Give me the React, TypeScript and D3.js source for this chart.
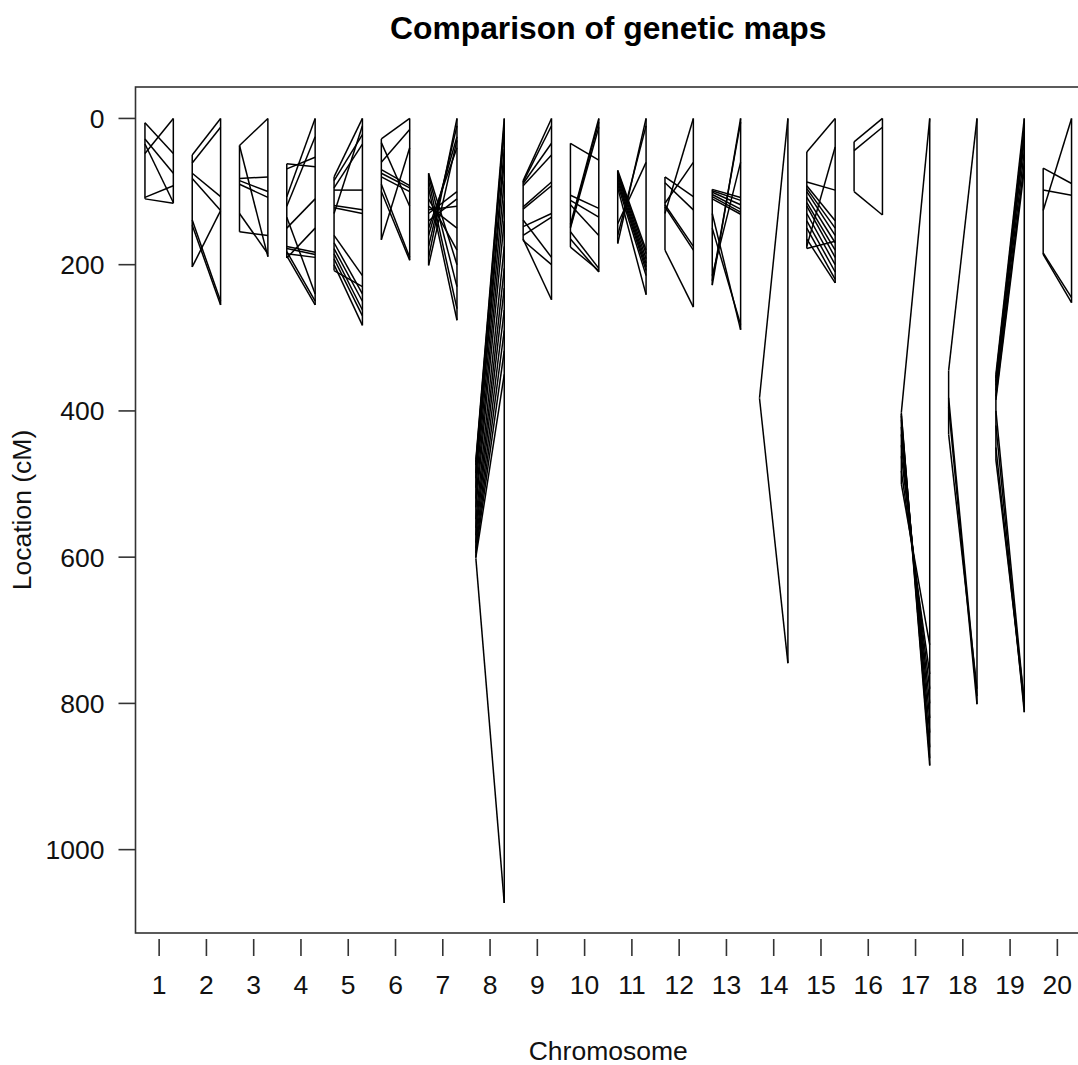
import React from 'react';
import * as d3 from 'd3';

const chromosomes = ['1','2','3','4','5','6','7','8','9','10','11','12','13','14','15','16','17','18','19','20'];

// Marker positions (cM) in map 1 (left) and map 2 (right), per chromosome
const map1Positions: number[][] = [
  [6, 28, 35, 48, 108, 110],
  [50, 61, 75, 82, 139, 146, 203],
  [37, 37, 82, 85, 90, 130, 155],
  [62, 69, 107, 120, 135, 150, 175, 178, 182, 185, 188, 191],
  [80, 85, 95, 98, 119, 122, 130, 160, 170, 178, 185, 192, 200, 208],
  [28, 33, 60, 70, 75, 80, 90, 100, 166],
  [75, 78, 85, 95, 110, 120, 125, 130, 140, 150, 160, 175, 190, 201],
  [467, 470, 474, 485, 492, 505, 520, 532, 548, 560, 570, 580, 588, 594, 600, 602],
  [85, 87, 89, 92, 121, 124, 139, 148, 160, 165, 167],
  [34, 105, 112, 118, 145, 148, 150, 155, 165, 176],
  [71, 73, 75, 78, 82, 86, 90, 95, 144, 160, 171],
  [80, 88, 116, 118, 121, 130, 180],
  [97, 99, 101, 104, 107, 110, 130, 150, 215, 222, 228],
  [382, 383],
  [46, 87, 92, 96, 100, 108, 115, 120, 130, 140, 150, 165, 175, 178],
  [32, 44, 100],
  [402, 404, 407, 412, 422, 432, 447, 462, 482, 500],
  [345, 382, 395, 432],
  [350, 355, 360, 365, 372, 380, 385, 400, 420, 450, 467],
  [68, 98, 126, 184, 186],
];

const map2Positions: number[][] = [
  [48, 75, 115, 0, 92, 116],
  [0, 12, 107, 126, 250, 255, 126],
  [0, 189, 80, 100, 108, 185, 160],
  [66, 53, 0, 25, 240, 110, 183, 186, 250, 190, 255, 150],
  [0, 22, 35, 98, 125, 130, 10, 215, 240, 250, 262, 270, 283, 230],
  [0, 120, 15, 92, 95, 100, 190, 194, 40],
  [200, 230, 260, 276, 180, 150, 120, 100, 110, 40, 25, 10, 0, 30],
  [0, 8, 18, 42, 58, 85, 112, 140, 175, 205, 232, 262, 290, 318, 350, 1073],
  [0, 10, 34, 50, 87, 92, 190, 130, 135, 248, 200],
  [57, 123, 135, 160, 0, 5, 12, 205, 210, 208],
  [180, 185, 192, 198, 203, 208, 215, 241, 60, 10, 0],
  [107, 125, 60, 175, 180, 0, 258],
  [108, 112, 118, 124, 128, 131, 289, 282, 60, 5, 0],
  [0, 745],
  [0, 98, 140, 150, 160, 170, 180, 190, 200, 210, 220, 225, 39, 168],
  [0, 12, 132],
  [0, 885, 875, 860, 840, 820, 800, 780, 760, 720],
  [0, 790, 801, 780],
  [0, 10, 20, 30, 45, 60, 70, 800, 812, 805, 795],
  [89, 105, 0, 245, 252],
];

const yTicks = [0, 200, 400, 600, 800, 1000];
const titleText = 'Comparison of genetic maps';
const xLabel = 'Chromosome';
const yLabel = 'Location (cM)';

const W = 1078;
const H = 1065;
const plot = { left: 135.5, right: 1081, top: 87, bottom: 933 };
const FONT = "'Liberation Sans', Arial, sans-serif";
const FS = 26.5;

export default function App() {
  const x = d3.scaleLinear().domain([0.5, chromosomes.length + 0.5]).range([plot.left, plot.right]);
  const y = d3.scaleLinear().domain([-43, 1114]).range([plot.top, plot.bottom]);
  const off = 0.3;

  return (
    <svg width={W} height={H} style={{ position: 'absolute', left: 0, top: 0, background: '#fff' }}>
      <rect x={0} y={0} width={W} height={H} fill="#fff" />
      <rect x={plot.left} y={plot.top} width={plot.right - plot.left} height={plot.bottom - plot.top}
        fill="none" stroke="#333" strokeWidth={1.6} />
      {chromosomes.map((c, i) => {
        const m1 = map1Positions[i];
        const m2 = map2Positions[i];
        const xl = x(i + 1 - off);
        const xr = x(i + 1 + off);
        const [a1, b1] = d3.extent(m1) as [number, number];
        const [a2, b2] = d3.extent(m2) as [number, number];
        return (
          <g key={c} stroke="#000" strokeWidth={1.5} fill="none">
            <line x1={xl} x2={xl} y1={y(a1)} y2={y(b1)} />
            <line x1={xr} x2={xr} y1={y(a2)} y2={y(b2)} />
            {m1.map((p, j) => (
              <line key={j} x1={xl} y1={y(p)} x2={xr} y2={y(m2[j])} />
            ))}
          </g>
        );
      })}
      {yTicks.map(t => (
        <g key={t}>
          <line x1={plot.left - 17} x2={plot.left} y1={y(t)} y2={y(t)} stroke="#333" strokeWidth={1.6} />
          <text x={plot.left - 31} y={y(t) + 9.5} textAnchor="end" fontFamily={FONT} fontSize={FS} fill="#111">{t}</text>
        </g>
      ))}
      {chromosomes.map((c, i) => (
        <g key={c}>
          <line x1={x(i + 1)} x2={x(i + 1)} y1={plot.bottom + 6} y2={plot.bottom + 23} stroke="#333" strokeWidth={1.6} />
          <text x={x(i + 1)} y={994} textAnchor="middle" fontFamily={FONT} fontSize={FS} fill="#111">{c}</text>
        </g>
      ))}
      <text x={(plot.left + plot.right) / 2} y={1060} textAnchor="middle" fontFamily={FONT} fontSize={FS} fill="#111">{xLabel}</text>
      <text transform={`translate(31, ${(plot.top + plot.bottom) / 2}) rotate(-90)`} textAnchor="middle" fontFamily={FONT} fontSize={FS} fill="#111">{yLabel}</text>
      <text x={(plot.left + plot.right) / 2} y={39} textAnchor="middle" fontFamily={FONT} fontSize={FS * 1.2} fontWeight="bold" fill="#000">{titleText}</text>
    </svg>
  );
}
